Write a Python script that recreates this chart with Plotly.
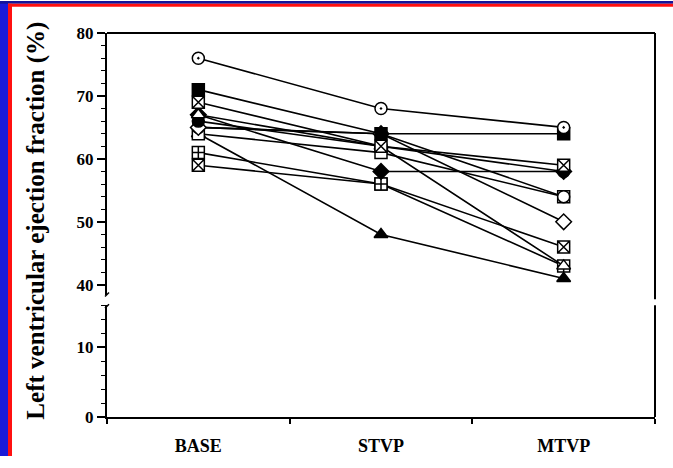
import plotly.graph_objects as go

categories = ["BASE", "STVP", "MTVP"]
cat_pos = [0, 1, 2]

# patient series (LVEF %) at BASE, STVP, MTVP
p_circle_dot = [76, 68, 65]
p_square_filled = [71, 64, 64]
p_square_x_a = [69, 62, 59]
p_triangle_open = [67, 62, 43]
p_diamond_filled = [67, 58, 58]
p_circle_filled = [66, 62, 58]
p_diamond_open = [65, 64, 50]
p_circle_open = [65, 64, 54]
p_square_open = [64, 61, 54]
p_triangle_filled = [64, 48, 41]
p_square_cross = [61, 56, 43]
p_square_x_b = [59, 56, 46]

upper_ticks = [40, 50, 60, 70, 80]
lower_ticks = [0, 10]

series = [
    (p_triangle_filled, "triangle-up", "black"),
    (p_square_x_b, "square-x", "white"),
    (p_square_cross, "square-cross", "white"),
    (p_square_open, "square", "white"),
    (p_circle_open, "circle", "white"),
    (p_diamond_open, "diamond", "white"),
    (p_circle_filled, "circle", "black"),
    (p_diamond_filled, "diamond", "black"),
    (p_triangle_open, "triangle-up", "white"),
    (p_square_x_a, "square-x", "white"),
    (p_square_filled, "square", "black"),
    (p_circle_dot, "circle-dot", "white"),
]

fig = go.Figure()
for vals, sym, fill in series:
    fig.add_trace(go.Scatter(
        x=cat_pos, y=vals, mode="lines+markers",
        line=dict(color="black", width=1.6),
        marker=dict(symbol=sym, size=12, color=fill,
                    line=dict(color="black", width=1.5)),
        xaxis="x", yaxis="y", showlegend=False, cliponaxis=False,
    ))
# invisible trace to activate lower axis
fig.add_trace(go.Scatter(x=[0], y=[0], mode="markers", marker=dict(opacity=0),
                         xaxis="x", yaxis="y2", showlegend=False, hoverinfo="skip"))

FONT = "Liberation Serif"
L, R, T, B = 107, 18, 33, 40
W, H = 673, 468
PW, PH = W - L - R, H - T - B

def px(x):
    return (x - L) / PW

def py(y):
    return (H - B - y) / PH

up_bot = py(303)
low_top = py(313)

fig.update_layout(
    width=W, height=H,
    margin=dict(l=L, r=R, t=T, b=B),
    paper_bgcolor="white", plot_bgcolor="white",
    xaxis=dict(
        range=[-0.5, 2.5], tickvals=cat_pos, ticktext=categories,
        anchor="y2", showline=True, linecolor="black", linewidth=2,
        ticks="outside", ticklen=11, tickcolor="rgba(0,0,0,0)",
        minor=dict(tickmode="array", tickvals=[-0.5, 0.5, 1.5, 2.5],
                   ticks="outside", ticklen=5, tickcolor="black", tickwidth=1.5),
        showgrid=False, zeroline=False,
        tickfont=dict(family=FONT, size=18, color="black", weight="bold"),
    ),
    yaxis=dict(
        domain=[up_bot, 1], range=[38.3, 80], tickvals=upper_ticks,
        showline=True, linecolor="black", linewidth=2, anchor="x",
        ticks="outside", ticklen=8, tickwidth=1.5, tickcolor="black",
        minor=dict(dtick=2, tick0=0, ticks="outside", ticklen=4,
                   tickcolor="black", tickwidth=1.2),
        showgrid=False, zeroline=False,
        tickfont=dict(family=FONT, size=17, color="black", weight="bold"),
    ),
    yaxis2=dict(
        domain=[0, low_top], range=[0, 16], tickvals=lower_ticks,
        showline=True, linecolor="black", linewidth=2, anchor="x",
        ticks="outside", ticklen=8, tickwidth=1.5, tickcolor="black",
        minor=dict(dtick=2, tick0=0, ticks="outside", ticklen=4,
                   tickcolor="black", tickwidth=1.2),
        showgrid=False, zeroline=False,
        tickfont=dict(family=FONT, size=17, color="black", weight="bold"),
    ),
)

shapes = []
# plot frame: top and right (with break)
shapes.append(dict(type="line", xref="paper", yref="paper", x0=0, x1=1, y0=1, y1=1,
                   line=dict(color="black", width=2)))
shapes.append(dict(type="line", xref="paper", yref="paper", x0=1, x1=1, y0=py(307), y1=1,
                   line=dict(color="black", width=2)))
shapes.append(dict(type="line", xref="paper", yref="paper", x0=1, x1=1, y0=0, y1=py(313),
                   line=dict(color="black", width=2)))
# break marks on left axis
shapes.append(dict(type="line", xref="paper", yref="paper", x0=px(105), x1=px(109),
                   y0=py(304), y1=py(300), line=dict(color="black", width=1.5)))
shapes.append(dict(type="line", xref="paper", yref="paper", x0=px(105), x1=px(109),
                   y0=py(316), y1=py(312), line=dict(color="black", width=1.5)))
# slide frame (blue + red)
shapes.append(dict(type="rect", xref="paper", yref="paper", x0=px(0), x1=px(8),
                   y0=py(H), y1=py(0), fillcolor="#1a1ad8", line=dict(width=0), layer="above"))
shapes.append(dict(type="rect", xref="paper", yref="paper", x0=px(0), x1=px(W),
                   y0=py(3), y1=py(0), fillcolor="#14149a", line=dict(width=0), layer="above"))
shapes.append(dict(type="rect", xref="paper", yref="paper", x0=px(8), x1=px(12),
                   y0=py(H), y1=py(3), fillcolor="#ff1010", line=dict(width=0), layer="above"))
shapes.append(dict(type="rect", xref="paper", yref="paper", x0=px(8), x1=px(W),
                   y0=py(6), y1=py(3), fillcolor="#ff1010", line=dict(width=0), layer="above"))
fig.update_layout(shapes=shapes)

fig.add_annotation(
    text="<b>Left ventricular ejection fraction (%)</b>",
    xref="paper", yref="paper", x=px(36), y=py(226),
    xanchor="center", yanchor="middle", textangle=-90, showarrow=False,
    font=dict(family=FONT, size=25, color="black"),
)

fig.write_html(
    "out.html",
    config={"displayModeBar": False},
    post_script="document.body.style.margin='0';document.body.style.overflow='hidden';",
)
